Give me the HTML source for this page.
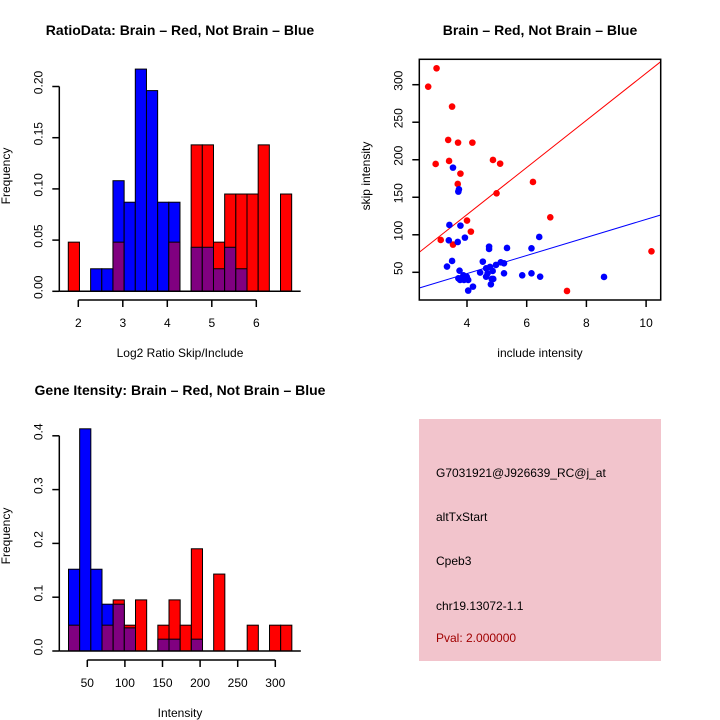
<!DOCTYPE html>
<html><head><meta charset="utf-8"><style>
body{margin:0;background:#fff;}
svg{display:block;font-family:"Liberation Sans",sans-serif;}
</style></head><body>
<svg id="c" width="720" height="720" viewBox="0 0 720 720"></svg>
<script>
// ---- Panel 1: ratio histogram ----
const ratioBinStart = 1.775;
const ratioBinWidth = 0.251;
const ratioRed = [0.048,0,0,0,0.048,0,0,0,0,0.048,0,0.143,0.143,0.048,0.095,0.095,0.095,0.143,0,0.095];
const ratioBlue = [0,0,0.022,0.022,0.108,0.087,0.217,0.196,0.087,0.087,0,0.043,0.043,0.022,0.043,0.022,0,0,0,0];
const ratioXTicks = [2,3,4,5,6];
const ratioYTicks = [0,0.05,0.10,0.15,0.20];
const ratioYLabels = ["0.00","0.05","0.10","0.15","0.20"];
// ---- Panel 2: scatter ----
const redX = [2.98,2.70,3.50,3.37,3.70,4.18,3.40,2.95,4.87,5.11,3.78,3.69,6.21,4.99,6.79,4.00,4.13,3.12,3.53,10.18,7.35];
const redY = [321.9,297.4,270.8,226.4,222.8,222.8,198.4,194.4,199.7,194.8,181.5,167.7,170.4,155.3,123.3,118.9,104.2,93.1,86.9,78.0,25.1];
const blueX = [3.53,3.73,3.71,3.41,3.78,3.93,3.39,3.69,6.42,4.74,4.74,5.34,6.16,3.50,3.33,4.53,3.75,4.44,4.64,4.77,4.86,4.97,5.13,5.24,5.24,5.85,6.16,6.45,8.59,3.88,3.99,3.77,4.04,3.71,4.64,4.83,4.88,4.80,4.20,4.04,3.90,4.69];
const blueY = [189.5,160.6,157.5,113.1,112.2,96.2,92.6,90.4,97.1,84.2,81.1,82.4,82.0,65.1,57.6,64.2,52.2,49.6,55.3,57.1,51.8,59.8,63.3,62.0,48.7,46.0,48.7,44.2,43.8,46.0,44.2,39.8,39.8,42.0,44.2,41.1,41.1,34.0,30.9,25.6,39.8,48.7];
const redLine = [1.3,31.4];   // intercept, slope
const blueLine = [0.2,12.03];
const scXTicks = [4,6,8,10];
const scYTicks = [50,100,150,200,250,300];
// ---- Panel 3: intensity histogram ----
const intBinStart = 25;
const intBinWidth = 14.85;
const intRed = [0.048,0,0,0.048,0.095,0.048,0.095,0,0.048,0.095,0.048,0.190,0,0.143,0,0,0.048,0,0.048,0.048];
const intBlue = [0.152,0.413,0.152,0.087,0.087,0.043,0,0,0.022,0.022,0,0.022,0,0,0,0,0,0,0,0];
const intXTicks = [50,100,150,200,250,300];
const intYTicks = [0,0.1,0.2,0.3,0.4];
const intYLabels = ["0.0","0.1","0.2","0.3","0.4"];
// ---- Info box ----
const infoLines = ["G7031921@J926639_RC@j_at","altTxStart","Cpeb3","chr19.13072-1.1"];
const pvalText = "Pval: 2.000000";

const svg = document.getElementById('c');
const NS = 'http://www.w3.org/2000/svg';
function mk(tag, attrs, parent){
  const e = document.createElementNS(NS, tag);
  for (const k in attrs) e.setAttribute(k, attrs[k]);
  (parent||svg).appendChild(e);
  return e;
}
function txt(s, x, y, opts, parent){
  const e = mk('text', Object.assign({x:x, y:y, 'font-size':12, 'text-anchor':'middle', fill:'#000'}, opts||{}), parent);
  e.textContent = s;
  return e;
}

function hist(name, g, red, blue, start, width, xs, ys, yTicks, yLabels, xTicks, xAxisY, yAxisX, yMaxTick){
  red.forEach((r,i)=>{
    const b = blue[i];
    const x0 = xs(start + i*width), x1 = xs(start + (i+1)*width);
    const tall = Math.max(r,b), lo = Math.min(r,b);
    if (tall > 0){
      const el = mk('rect',{x:x0,y:ys(tall),width:x1-x0,height:ys(0)-ys(tall),fill:(r>=b?'#ff0000':'#0000ff'),stroke:'#000','stroke-width':1},g);
      
      
    }
    if (lo > 0){
      const el = mk('rect',{x:x0,y:ys(lo),width:x1-x0,height:ys(0)-ys(lo),fill:'#800080',stroke:'#000','stroke-width':1},g);
      
      
    }
  });
  // baseline
  mk('line',{x1:yAxisX,y1:ys(0),x2:xs(start+width*red.length)+9,y2:ys(0),stroke:'#000','stroke-width':1.5},g);
  // y axis
  const ya = mk('g',{},g);
  
  
  mk('line',{x1:yAxisX,y1:ys(0),x2:yAxisX,y2:ys(yTicks[yTicks.length-1]),stroke:'#000','stroke-width':1.5},ya);
  yTicks.forEach((t,i)=>{
    mk('line',{x1:yAxisX-7,y1:ys(t),x2:yAxisX,y2:ys(t),stroke:'#000','stroke-width':1.5},ya);
    txt(yLabels[i], yAxisX-17, ys(t)+4, {transform:`rotate(-90 ${yAxisX-21} ${ys(t)})`}, ya);
  });
  // x axis
  const xa = mk('g',{},g);
  
  
  mk('line',{x1:xs(xTicks[0]),y1:xAxisY,x2:xs(xTicks[xTicks.length-1]),y2:xAxisY,stroke:'#000','stroke-width':1.5},xa);
  xTicks.forEach(t=>{
    mk('line',{x1:xs(t),y1:xAxisY,x2:xs(t),y2:xAxisY+7,stroke:'#000','stroke-width':1.5},xa);
    txt(String(t), xs(t), xAxisY+27, {}, xa);
  });
}

// Panel 1
const g1 = mk('g',{});


const xs1 = v => 78.3 + (v-2)*44.5;
const ys1 = v => 291.3 - v*1024;
hist('ratio', g1, ratioRed, ratioBlue, ratioBinStart, ratioBinWidth, xs1, ys1, ratioYTicks, ratioYLabels, ratioXTicks, 300, 59.3);
const t1 = txt('RatioData: Brain – Red, Not Brain – Blue', 180, 35, {'font-size':14,'font-weight':'bold'});
 
const xl1 = txt('Log2 Ratio Skip/Include', 180, 357, {});
 
const yl1 = txt('Frequency', 14, 180, {transform:'rotate(-90 10 180)'});
 

// Panel 2 scatter
const g2 = mk('g',{});


const xs2 = v => 467 + (v-4)*29.85;
const ys2 = v => 272.3 - (v-50)*0.7504;
const L=419.3,R=660.7,T=59.3,B=300;
const cp = mk('clipPath',{id:'clip2'}); mk('rect',{x:L,y:T,width:R-L,height:B-T},cp);
const lx0 = (L-467)/29.85+4, lx1 = (R-467)/29.85+4;
const rl = mk('line',{x1:xs2(lx0),y1:ys2(redLine[0]+redLine[1]*lx0),x2:xs2(lx1),y2:ys2(redLine[0]+redLine[1]*lx1),stroke:'#ff0000','stroke-width':1,'clip-path':'url(#clip2)'},g2);
 
const bl = mk('line',{x1:xs2(lx0),y1:ys2(blueLine[0]+blueLine[1]*lx0),x2:xs2(lx1),y2:ys2(blueLine[0]+blueLine[1]*lx1),stroke:'#0000ff','stroke-width':1,'clip-path':'url(#clip2)'},g2);
 
redX.forEach((x,i)=>{
  const c = mk('circle',{cx:xs2(x),cy:ys2(redY[i]),r:3.3,fill:'#ff0000'},g2);
   
});
blueX.forEach((x,i)=>{
  const c = mk('circle',{cx:xs2(x),cy:ys2(blueY[i]),r:3.3,fill:'#0000ff'},g2);
   
});
const box = mk('rect',{x:L,y:T,width:R-L,height:B-T,fill:'none',stroke:'#000','stroke-width':1.5},g2);
 
scXTicks.forEach(t=>{
  mk('line',{x1:xs2(t),y1:B,x2:xs2(t),y2:B+7,stroke:'#000','stroke-width':1.5},g2);
  txt(String(t), xs2(t), B+27, {}, g2);
});
scYTicks.forEach(t=>{
  mk('line',{x1:L-7,y1:ys2(t),x2:L,y2:ys2(t),stroke:'#000','stroke-width':1.5},g2);
  txt(String(t), L-17, ys2(t)+4, {transform:`rotate(-90 ${L-21} ${ys2(t)})`}, g2);
});
const t2 = txt('Brain – Red, Not Brain – Blue', 540, 35, {'font-size':14,'font-weight':'bold'});
 
const xl2 = txt('include intensity', 540, 357, {});
 
const yl2 = txt('skip intensity', 374, 180, {transform:'rotate(-90 370 180)'});
 

// Panel 3
const g3 = mk('g',{});


const xs3 = v => 87.3 + (v-50)*0.752;
const ys3 = v => 651 - v*538;
hist('intensity', g3, intRed, intBlue, intBinStart, intBinWidth, xs3, ys3, intYTicks, intYLabels, intXTicks, 660, 59.3);
const t3 = txt('Gene Itensity: Brain – Red, Not Brain – Blue', 180, 395, {'font-size':14,'font-weight':'bold'});
 
const xl3 = txt('Intensity', 180, 717, {});
 
const yl3 = txt('Frequency', 14, 540, {transform:'rotate(-90 10 540)'});
 

// Info box
const g4 = mk('g',{});


mk('rect',{x:419,y:419,width:242,height:242,fill:'#f2c4cc'},g4);
const ys4 = [477,521,565,610];
infoLines.forEach((s,i)=>{
  const t = txt(s, 436, ys4[i], {'text-anchor':'start'}, g4);
   
});
const pv = txt(pvalText, 436, 642, {'text-anchor':'start', fill:'#a00000'}, g4);
 
</script>
</body></html>
